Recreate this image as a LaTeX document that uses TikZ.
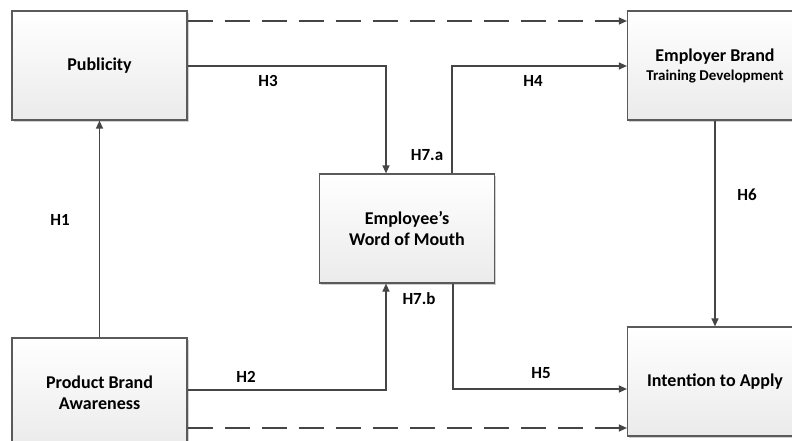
\documentclass[tikz,border=0pt]{standalone}
\usepackage{fontspec}
\setmainfont{Carlito}
\usetikzlibrary{arrows.meta,shadows}
\definecolor{linec}{HTML}{454545}
\definecolor{borderc}{HTML}{5A5A5A}
\begin{document}
\begin{tikzpicture}[x=1pt,y=-1pt,
  box/.style={draw=borderc, line width=1.2pt, minimum width=175pt, minimum height=109pt,
    inner sep=0pt, align=center, top color=white, bottom color=black!8,
    font=\fontsize{18}{21}\selectfont\bfseries,
    drop shadow={shadow xshift=1.8pt, shadow yshift=-1.8pt, fill=black!30, opacity=0.6}},
  arr/.style={draw=linec, line width=1.2pt, -{Triangle[length=8pt,width=7pt]}},
  dsh/.style={arr, dash pattern=on 25pt off 12pt},
  lab/.style={font=\fontsize{17}{20}\selectfont\bfseries, inner sep=0pt}]
\useasboundingbox (0,0) rectangle (792,441);
\clip (0,0) rectangle (792,441);
\fill[white] (0,0) rectangle (792,441);

\node[box] (pub) at (99.5,65.5) {Publicity};
\node[box] (pba) at (99.5,392.5) {Product Brand\\Awareness};
\node[box] (wom) at (407,228.5) {Employee’s\\Word of Mouth};
\node[box] (eb) at (715,65.5) {Employer Brand\\[-2pt]{\fontsize{15}{18}\selectfont Training Development}};
\node[box] (ia) at (715,381.5) {Intention to Apply};

\draw[dsh] (pub.east |- 0,21) -- (eb.west |- 0,21);
\draw[dsh] (pba.east |- 0,428) -- (ia.west |- 0,428);
\draw[arr] (pba) -- (pub);
\draw[arr] (pub.east |- 0,66) -| (wom.north -| 386,0);
\draw[arr] (pba.east |- 0,390) -| (wom.south -| 386,0);
\draw[arr] (wom.north -| 452,0) |- (eb.west |- 0,66);
\draw[arr] (wom.south -| 453,0) |- (ia.west |- 0,389);
\draw[arr] (eb) -- (ia);

\node[lab] (h1) at (60,220) {H1};
\node[lab] (h2) at (246,377) {H2};
\node[lab] (h3) at (268,81) {H3};
\node[lab] (h4) at (533,81) {H4};
\node[lab] (h5) at (541,373) {H5};
\node[lab] (h6) at (747,195) {H6};
\node[lab] (h7a) at (427,155) {H7.a};
\node[lab] (h7b) at (419,299) {H7.b};
\end{tikzpicture}
\end{document}
